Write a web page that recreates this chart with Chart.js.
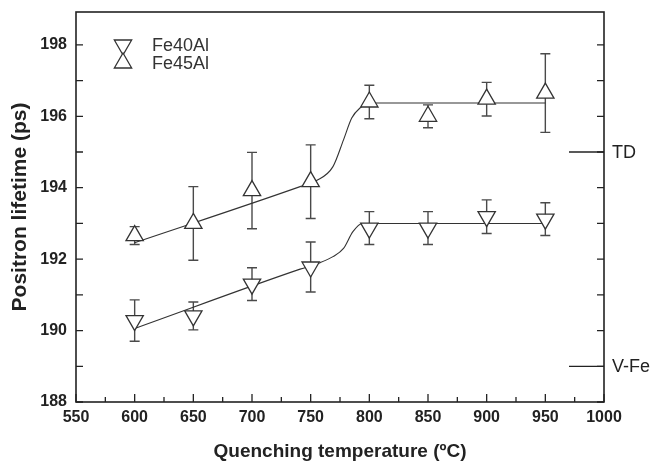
<!DOCTYPE html>
<html>
<head>
<meta charset="utf-8">
<script src="https://cdn.jsdelivr.net/npm/chart.js@4.4.1/dist/chart.umd.min.js"></script>
<style>
  html, body { margin: 0; padding: 0; background: #fff; }
</style>
</head>
<body>
<canvas id="mycanvas" width="654" height="463"></canvas>
<script>
// measured points
var temps = [600, 650, 700, 750, 800, 850, 900, 950];
var fe40 = [190.28, 190.41, 191.30, 191.78, 192.87, 192.87, 193.19, 193.12];
var fe40Err = [0.58, 0.39, 0.46, 0.70, 0.46, 0.46, 0.47, 0.46];
var fe45 = [192.66, 193.00, 193.92, 194.17, 196.40, 196.00, 196.48, 196.65];
var fe45Err = [0.25, 1.03, 1.07, 1.03, 0.47, 0.32, 0.47, 1.10];

// guide curves
var fit40T = [600, 741, 758, 769, 778, 786, 794, 950];
var fit40 = [190.06, 191.72, 191.90, 192.07, 192.30, 192.77, 193.00, 193.00];
var fit45T = [600, 741, 755, 769, 778, 785, 792, 800, 950];
var fit45 = [192.46, 194.03, 194.20, 194.59, 195.34, 195.95, 196.23, 196.37, 196.37];

// reference levels on the right axis
var refNames = ['TD', 'V-Fe'];
var refValues = [195, 189];

var xMin = 550, xMax = 1000, xStep = 50;
var yMin = 188, yMax = 198.92, yStep = 2;

var ink = '#222';
var fontFamily = 'Arial, "Liberation Sans", Helvetica, sans-serif';

function toPoints(xs, ys) {
  var out = [];
  for (var i = 0; i < xs.length; i++) out.push({x: xs[i], y: ys[i]});
  return out;
}

var errorBars = {
  id: 'errorBars',
  beforeDatasetsDraw: function(chart) {
    var ctx = chart.ctx, sx = chart.scales.x, sy = chart.scales.y;
    ctx.save();
    ctx.strokeStyle = '#4a4a4a';
    ctx.lineWidth = 1.4;
    chart.data.datasets.forEach(function(ds) {
      if (!ds.errors) return;
      ds.data.forEach(function(p, i) {
        var px = sx.getPixelForValue(p.x);
        var top = sy.getPixelForValue(p.y + ds.errors[i]);
        var bot = sy.getPixelForValue(p.y - ds.errors[i]);
        ctx.beginPath();
        ctx.moveTo(px, top); ctx.lineTo(px, bot);
        ctx.moveTo(px - 5, top); ctx.lineTo(px + 5, top);
        ctx.moveTo(px - 5, bot); ctx.lineTo(px + 5, bot);
        ctx.stroke();
      });
    });
    ctx.restore();
  }
};

var frame = {
  id: 'frame',
  afterDraw: function(chart) {
    var ctx = chart.ctx, a = chart.chartArea, sx = chart.scales.x, sy = chart.scales.y;
    ctx.save();
    ctx.strokeStyle = ink;
    ctx.lineWidth = 1.6;
    ctx.strokeRect(a.left, a.top, a.right - a.left, a.bottom - a.top);
    ctx.lineWidth = 1.3;
    ctx.beginPath();
    // bottom ticks, inward
    for (var v = xMin; v <= xMax; v += xStep / 2) {
      var px = sx.getPixelForValue(v);
      var len = (v - xMin) % xStep === 0 ? 8 : 5;
      ctx.moveTo(px, a.bottom); ctx.lineTo(px, a.bottom - len);
    }
    // left and right ticks, inward
    for (var w = yMin; w <= yMax; w += 1) {
      var py = sy.getPixelForValue(w);
      ctx.moveTo(a.left, py); ctx.lineTo(a.left + 7, py);
      ctx.moveTo(a.right, py); ctx.lineTo(a.right - 7, py);
    }
    ctx.stroke();

    // reference levels
    ctx.font = '18px ' + fontFamily;
    ctx.fillStyle = ink;
    ctx.textAlign = 'left';
    ctx.textBaseline = 'middle';
    for (var k = 0; k < refNames.length; k++) {
      var ry = sy.getPixelForValue(refValues[k]);
      ctx.beginPath();
      ctx.moveTo(a.right - 35, ry); ctx.lineTo(a.right, ry);
      ctx.stroke();
      ctx.fillText(refNames[k], a.right + 8, ry + 1);
    }

    // legend
    var items = chart.data.datasets.filter(function(ds) { return ds.inLegend; });
    items.forEach(function(ds, i) {
      var ly = 45 + i * 18;
      ctx.fillStyle = '#fff';
      ctx.strokeStyle = '#333';
      ctx.lineWidth = 1.3;
      Chart.helpers.drawPoint(ctx, {pointStyle: 'triangle', rotation: ds.pointRotation || 0, radius: 10, borderWidth: 1.3}, 123, ly);
      ctx.fillStyle = '#333';
      ctx.font = '18px ' + fontFamily;
      ctx.fillText(ds.label, 152, ly + 1);
    });
    ctx.restore();
  }
};

var chartdata = {
  datasets: [
    {
      label: 'Fe40Al',
      inLegend: true,
      data: toPoints(temps, fe40),
      errors: fe40Err,
      showLine: false,
      pointStyle: 'triangle',
      pointRotation: 180,
      pointRadius: 10,
      pointBackgroundColor: '#fff',
      pointBorderColor: '#333',
      pointBorderWidth: 1.3,
      order: 1
    },
    {
      label: 'Fe45Al',
      inLegend: true,
      data: toPoints(temps, fe45),
      errors: fe45Err,
      showLine: false,
      pointStyle: 'triangle',
      pointRotation: 0,
      pointRadius: 10,
      pointBackgroundColor: '#fff',
      pointBorderColor: '#333',
      pointBorderWidth: 1.3,
      order: 1
    },
    {
      label: 'fit40',
      data: toPoints(fit40T, fit40),
      borderColor: '#333',
      borderWidth: 1.1,
      pointRadius: 0,
      cubicInterpolationMode: 'monotone',
      order: 2
    },
    {
      label: 'fit45',
      data: toPoints(fit45T, fit45),
      borderColor: '#333',
      borderWidth: 1.1,
      pointRadius: 0,
      cubicInterpolationMode: 'monotone',
      order: 2
    }
  ]
};

var ctx = document.getElementById('mycanvas');

var lifetimeChart = new Chart(ctx, {
  type: 'line',
  data: chartdata,
  plugins: [errorBars, frame],
  options: {
    responsive: false,
    animation: false,
    devicePixelRatio: 1,
    layout: { padding: { top: 12, right: 50, left: 0, bottom: 0 } },
    plugins: { legend: { display: false }, tooltip: { enabled: false } },
    scales: {
      x: {
        type: 'linear',
        min: xMin,
        max: xMax,
        grid: { display: false, drawTicks: false },
        border: { display: false },
        ticks: {
          stepSize: xStep,
          padding: 6,
          color: ink,
          font: { family: fontFamily, size: 16, weight: 'bold' },
          callback: function(value) { return String(value); }
        },
        title: { display: true, text: 'Quenching temperature (ºC)', color: ink, padding: { bottom: 0 }, font: { family: fontFamily, size: 19, weight: 'bold' } },
        afterFit: function(scale) { scale.height = 61; }
      },
      y: {
        min: yMin,
        max: yMax,
        afterBuildTicks: function(scale) {
          var t = [];
          for (var v = yMin; v <= 198; v += yStep) t.push({value: v});
          scale.ticks = t;
        },
        grid: { display: false, drawTicks: false },
        border: { display: false },
        ticks: { padding: 9, color: ink, font: { family: fontFamily, size: 16, weight: 'bold' } },
        title: { display: true, text: 'Positron lifetime (ps)', color: ink, padding: { top: 8 }, font: { family: fontFamily, size: 21, weight: 'bold' } },
        afterFit: function(scale) { scale.width = 76; scale.paddingTop = 0; scale.paddingBottom = 0; }
      }
    }
  }
});
</script>
</body>
</html>
